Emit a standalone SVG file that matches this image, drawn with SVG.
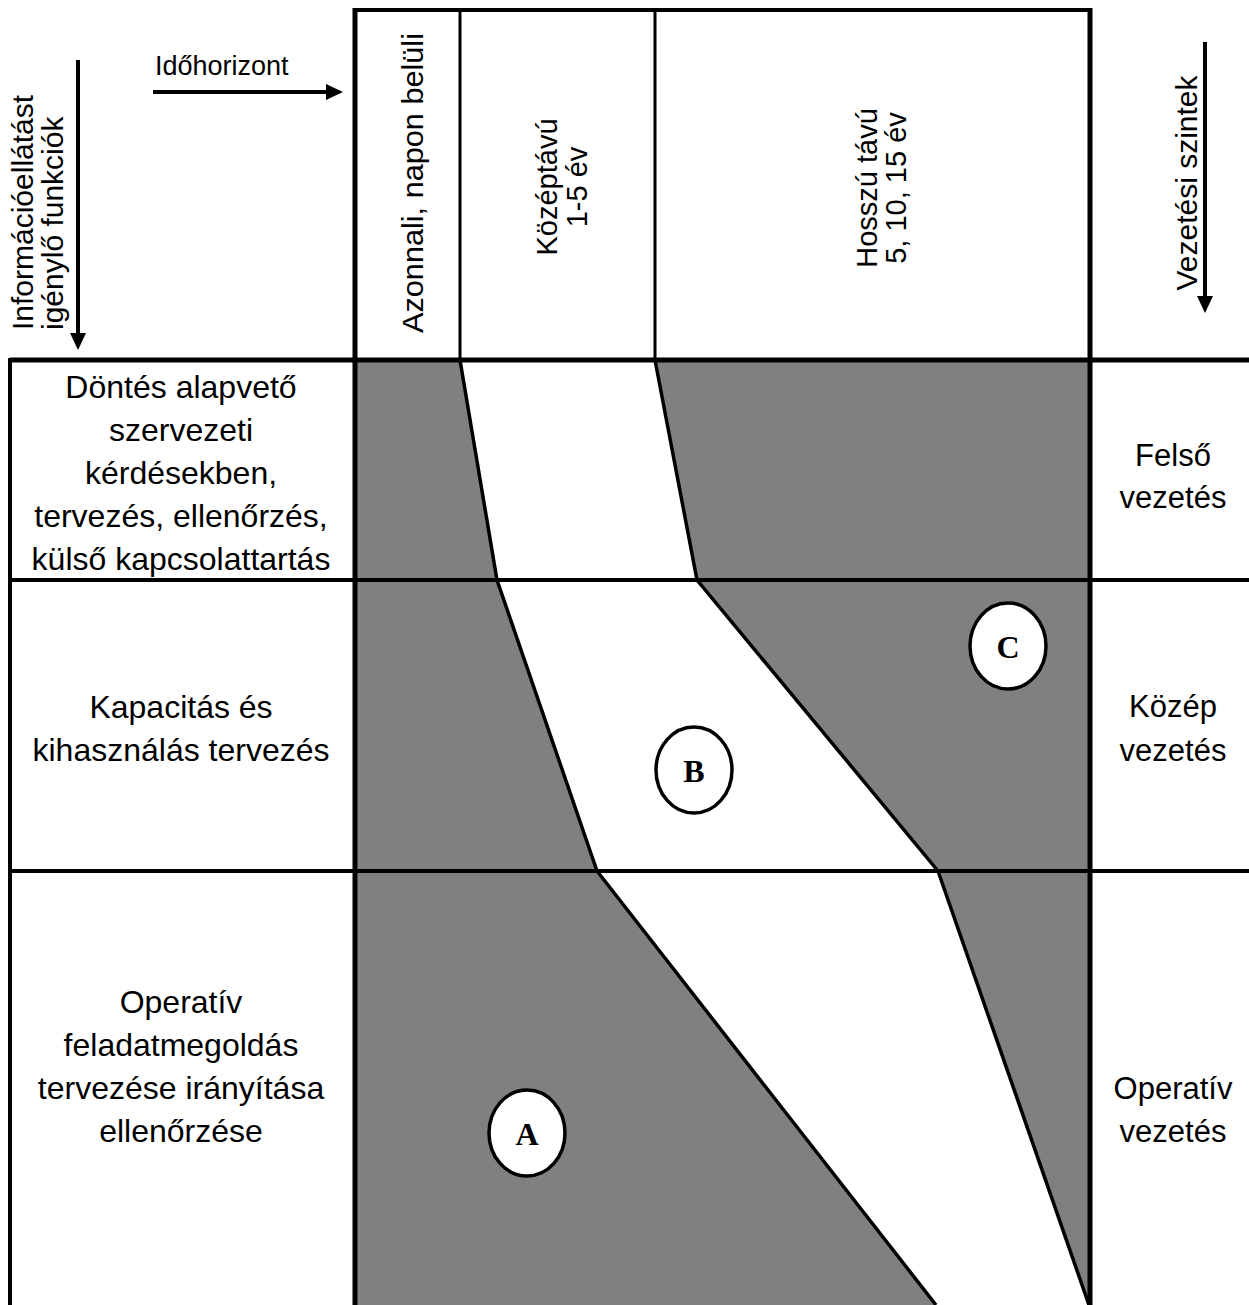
<svg xmlns="http://www.w3.org/2000/svg" width="1249" height="1305" viewBox="0 0 1249 1305">
<style>
  .t { font-family: "Liberation Sans", Arial, sans-serif; fill: #000; }
  .lc { font-size: 32px; text-anchor: middle; }
  .rc { font-size: 31px; text-anchor: middle; }
  .vt { font-size: 29px; text-anchor: middle; }
  .vb { font-size: 30px; text-anchor: middle; }
  .vs { font-size: 30px; text-anchor: start; }
  .gray { fill: #808080; stroke: none; }
  .bound { fill: none; stroke: #000; stroke-width: 3.5; stroke-linejoin: miter; }
  .grid { stroke: #000; fill: none; }
  .circ { fill: #fff; stroke: #000; stroke-width: 3.5; }
  .let { font-family: "Liberation Serif", "Times New Roman", serif; font-weight: bold; font-size: 32px; text-anchor: middle; }
  .arr { stroke: #000; stroke-width: 4; fill: none; }
</style>
<defs>
  <marker id="ah" viewBox="0 0 17 16" refX="3" refY="8" markerWidth="17" markerHeight="16" markerUnits="userSpaceOnUse" orient="auto">
    <path d="M0,0 L17,8 L0,16 z" fill="#000"/>
  </marker>
</defs>
<rect x="0" y="0" width="1249" height="1305" fill="#fff"/>

<g id="regions">
  <polygon class="gray" points="355,360 460,360 497,580 597,871 936,1305 355,1305"/>
  <polygon class="gray" points="655,360 1090,360 1090,1305 1089,1305 938,871 697,580"/>
</g>

<g id="connectors">
  <polyline class="bound" points="460,360 497,580 597,871 936,1305"/>
  <polyline class="bound" points="655,360 697,580 938,871 1089,1305"/>
  <line class="arr" x1="78" y1="60" x2="78" y2="336" marker-end="url(#ah)"/>
  <line class="arr" x1="153" y1="92" x2="329" y2="92" marker-end="url(#ah)"/>
  <line class="arr" x1="1205" y1="42" x2="1205" y2="299" marker-end="url(#ah)"/>
</g>

<g id="grid">
  <line class="grid" x1="355" y1="10" x2="1090" y2="10" stroke-width="4"/>
  <line class="grid" x1="460" y1="10" x2="460" y2="360" stroke-width="3"/>
  <line class="grid" x1="655" y1="10" x2="655" y2="360" stroke-width="3"/>
  <line class="grid" x1="10" y1="360" x2="1249" y2="360" stroke-width="5"/>
  <line class="grid" x1="10" y1="580" x2="1249" y2="580" stroke-width="4"/>
  <line class="grid" x1="10" y1="871" x2="1249" y2="871" stroke-width="4"/>
  <line class="grid" x1="10" y1="358" x2="10" y2="1305" stroke-width="4"/>
  <line class="grid" x1="355" y1="8" x2="355" y2="1305" stroke-width="5"/>
  <line class="grid" x1="1090" y1="8" x2="1090" y2="1305" stroke-width="5"/>
</g>

<g id="header-labels">
  <text class="t" x="155" y="75" font-size="27">Időhorizont</text>
  <g transform="translate(33,330) rotate(-90)"><text class="t vs" x="0" y="0">Információellátást</text></g>
  <g transform="translate(63,330) rotate(-90)"><text class="t vs" x="0" y="0">igénylő funkciók</text></g>
  <g id="col-azonnali" transform="translate(423,183) rotate(-90)"><text class="t vb" x="0" y="0" textLength="300" lengthAdjust="spacingAndGlyphs">Azonnali, napon belüli</text></g>
  <g id="col-kozeptavu">
    <g transform="translate(557,187) rotate(-90)"><text class="t vt" x="0" y="0">Középtávú</text></g>
    <g transform="translate(587,187) rotate(-90)"><text class="t vt" x="0" y="0">1-5 év</text></g>
  </g>
  <g id="col-hosszu">
    <g transform="translate(877,188) rotate(-90)"><text class="t vt" x="0" y="0">Hosszú távú</text></g>
    <g transform="translate(906,188) rotate(-90)"><text class="t vt" x="0" y="0">5, 10, 15 év</text></g>
  </g>
  <g transform="translate(1197,183) rotate(-90)"><text class="t vb" x="0" y="0">Vezetési szintek</text></g>
</g>

<g id="row-felso">
  <text class="t lc" x="181" y="398">Döntés alapvető</text>
  <text class="t lc" x="181" y="441">szervezeti</text>
  <text class="t lc" x="181" y="484">kérdésekben,</text>
  <text class="t lc" x="181" y="527">tervezés, ellenőrzés,</text>
  <text class="t lc" x="181" y="570">külső kapcsolattartás</text>
  <text class="t rc" x="1173" y="466">Felső</text>
  <text class="t rc" x="1173" y="508">vezetés</text>
</g>

<g id="row-kozep">
  <text class="t lc" x="181" y="718">Kapacitás és</text>
  <text class="t lc" x="181" y="761">kihasználás tervezés</text>
  <text class="t rc" x="1173" y="717">Közép</text>
  <text class="t rc" x="1173" y="761">vezetés</text>
</g>

<g id="row-operativ">
  <text class="t lc" x="181" y="1013">Operatív</text>
  <text class="t lc" x="181" y="1056">feladatmegoldás</text>
  <text class="t lc" x="181" y="1099">tervezése irányítása</text>
  <text class="t lc" x="181" y="1142">ellenőrzése</text>
  <text class="t rc" x="1173" y="1099">Operatív</text>
  <text class="t rc" x="1173" y="1142">vezetés</text>
</g>

<g id="node-A">
  <ellipse class="circ" cx="527" cy="1133" rx="38" ry="43"/>
  <text class="let" x="527" y="1145">A</text>
</g>
<g id="node-B">
  <ellipse class="circ" cx="694" cy="770" rx="38" ry="43"/>
  <text class="let" x="694" y="782">B</text>
</g>
<g id="node-C">
  <ellipse class="circ" cx="1008" cy="646" rx="38" ry="43"/>
  <text class="let" x="1008" y="658">C</text>
</g>
</svg>
